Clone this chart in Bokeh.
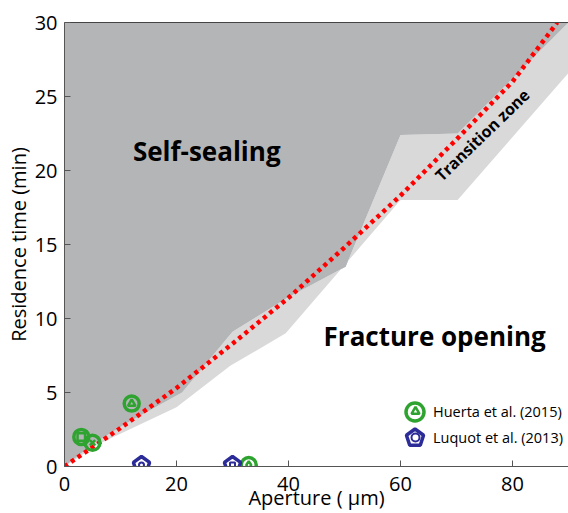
from bokeh.plotting import figure
from bokeh.models import (Range1d, LinearAxis, Legend, LegendItem, FixedTicker,
                          ColumnDataSource)
from bokeh.core.properties import value
from bokeh.embed import file_html
from bokeh.resources import INLINE

# ---- data ----
# self-sealing boundary (upper edge of the transition zone)
seal_edge_x = [90, 70.2, 60, 50.2, 39.8, 30, 21, 11, 5, 0]
seal_edge_y = [30, 22.5, 22.4, 13.5, 11.4, 9.1, 5.0, 2.9, 1.5, 0]
# fracture-opening boundary (lower edge of the transition zone)
open_edge_x = [90, 70.2, 60, 39.5, 29.6, 20, 6, 0]
open_edge_y = [26.6, 18.0, 18.0, 9.0, 6.8, 4.0, 1.5, 0]
# red dotted limit curve
limit_x = [0, 5, 10, 20, 30, 40, 50, 60, 70, 80, 88]
limit_y = [0, 1.3, 2.6, 5.3, 8.3, 11.4, 14.8, 18.3, 22.1, 26.0, 30.0]
# experiments
huerta_x = [3.0, 5.0, 12.0, 32.9]
huerta_y = [2.0, 1.6, 4.25, 0.1]
huerta_inner = ["square", "x", "triangle", "diamond"]
luquot_x = [13.75, 30.0]
luquot_y = [0.1, 0.1]
luquot_inner = ["circle", "square"]
x_ticks = [0, 20, 40, 60, 80]
y_ticks = [0, 5, 10, 15, 20, 25, 30]

GREEN = "#2fa32f"
NAVY = "#2c2c98"
DARK = "#b4b5b7"
LIGHT = "#d9d9d9"
FONT = "Open Sans"

p = figure(width=568, height=513, x_range=Range1d(0, 90), y_range=Range1d(0, 30),
           output_backend="svg", toolbar_location=None,
           min_border_left=64, min_border_right=0, min_border_top=22, min_border_bottom=47)
p.grid.visible = False
p.outline_line_color = None

# regions
p.patch(x=seal_edge_x + open_edge_x[::-1], y=seal_edge_y + open_edge_y[::-1],
        fill_color=LIGHT, line_color=None)
p.patch(x=[0, 0] + seal_edge_x, y=[0, 30] + seal_edge_y,
        fill_color=DARK, line_color=None)

# limit curve
p.line(limit_x, limit_y, line_color="red", line_width=4.5, line_dash="4 4")

# Huerta et al.
hsrc = ColumnDataSource(dict(x=huerta_x, y=huerta_y, m=huerta_inner))
r_hc = p.scatter("x", "y", source=hsrc, marker="circle", size=15, fill_color=None,
                 line_color=GREEN, line_width=3.5)
r_hi = p.scatter("x", "y", source=hsrc, marker="m", size=7.5, fill_color=None,
                 line_color=GREEN, line_width=2.5)

# Luquot et al.
lsrc = ColumnDataSource(dict(x=luquot_x, y=luquot_y, m=luquot_inner))
try:
    r_lp = p.ngon("x", "y", source=lsrc, radius=8.5, radius_units="screen", n=5,
                  angle=0, fill_color=None, line_color=NAVY, line_width=3.5)
except Exception:
    r_lp = p.scatter("x", "y", source=lsrc, marker="hex", size=16, fill_color=None,
                     line_color=NAVY, line_width=3.5)
r_li = p.scatter("x", "y", source=lsrc, marker="m", size=5, fill_color=None,
                 line_color=NAVY, line_width=2)

# texts
p.text(x=[25.4], y=[21.35], text=["Self-sealing"], text_font=value(FONT),
       text_font_style="bold", text_font_size="26px", text_align="center",
       text_baseline="middle", text_color="black")
p.text(x=[66.1], y=[8.8], text=["Fracture opening"], text_font=value(FONT),
       text_font_style="bold", text_font_size="26px", text_align="center",
       text_baseline="middle", text_color="black")
p.text(x=[74.6], y=[22.4], text=["Transition zone"], text_font=value(FONT),
       text_font_style="bold", text_font_size="16px", text_align="center",
       text_baseline="middle", text_color="black", angle=0.768)

# axes
for ax in (p.xaxis[0], p.yaxis[0]):
    ax.major_tick_in = 6
    ax.major_tick_out = 0
    ax.minor_tick_line_color = None
    ax.axis_line_color = "#555555"
    ax.major_tick_line_color = "#555555"
    ax.major_label_text_font = FONT
    ax.major_label_text_font_size = "20px"
    ax.major_label_text_color = "black"
    ax.axis_label_text_font = FONT
    ax.axis_label_text_font_size = "20px"
    ax.axis_label_text_font_style = "normal"
    ax.axis_label_text_color = "black"
p.xaxis.ticker = FixedTicker(ticks=x_ticks)
p.yaxis.ticker = FixedTicker(ticks=y_ticks)
p.xaxis.axis_label = "Aperture ( \u03bcm)"
p.yaxis.axis_label = "Residence time (min)"
p.xaxis.major_label_standoff = 10
p.xaxis.axis_label_standoff = -10
p.yaxis.major_label_standoff = 7
p.yaxis.axis_label_standoff = 0

top = LinearAxis(ticker=FixedTicker(ticks=[]), major_label_text_font_size="0px",
                 major_tick_in=0, major_tick_out=0, minor_tick_line_color=None,
                 axis_line_color="#444444")
p.add_layout(top, "above")

# legends: outer symbols and inner symbols overlaid
common = dict(padding=0, margin=0, border_line_color=None, background_fill_alpha=0)
legA1 = Legend(items=[LegendItem(label="", renderers=[r_hc], index=2)],
               location=(328, 32), glyph_width=45, glyph_height=45,
               label_text_font_size="0px", label_standoff=0, **common)
legA2 = Legend(items=[LegendItem(label="", renderers=[r_lp], index=0)],
               location=(328, 6), glyph_width=45, glyph_height=45,
               label_text_font_size="0px", label_standoff=0, **common)
legB = Legend(items=[LegendItem(label="Huerta et al. (2015)", renderers=[r_hi], index=2),
                     LegendItem(label="Luquot et al. (2013)", renderers=[r_li], index=0)],
              location=(341, 19), glyph_width=20, glyph_height=20, spacing=6,
              label_text_font=FONT, label_text_font_size="14.5px", label_standoff=8,
              label_text_color="black", **common)
p.add_layout(legA1)
p.add_layout(legA2)
p.add_layout(legB)

open("out.html", "w").write(file_html(p, INLINE))
